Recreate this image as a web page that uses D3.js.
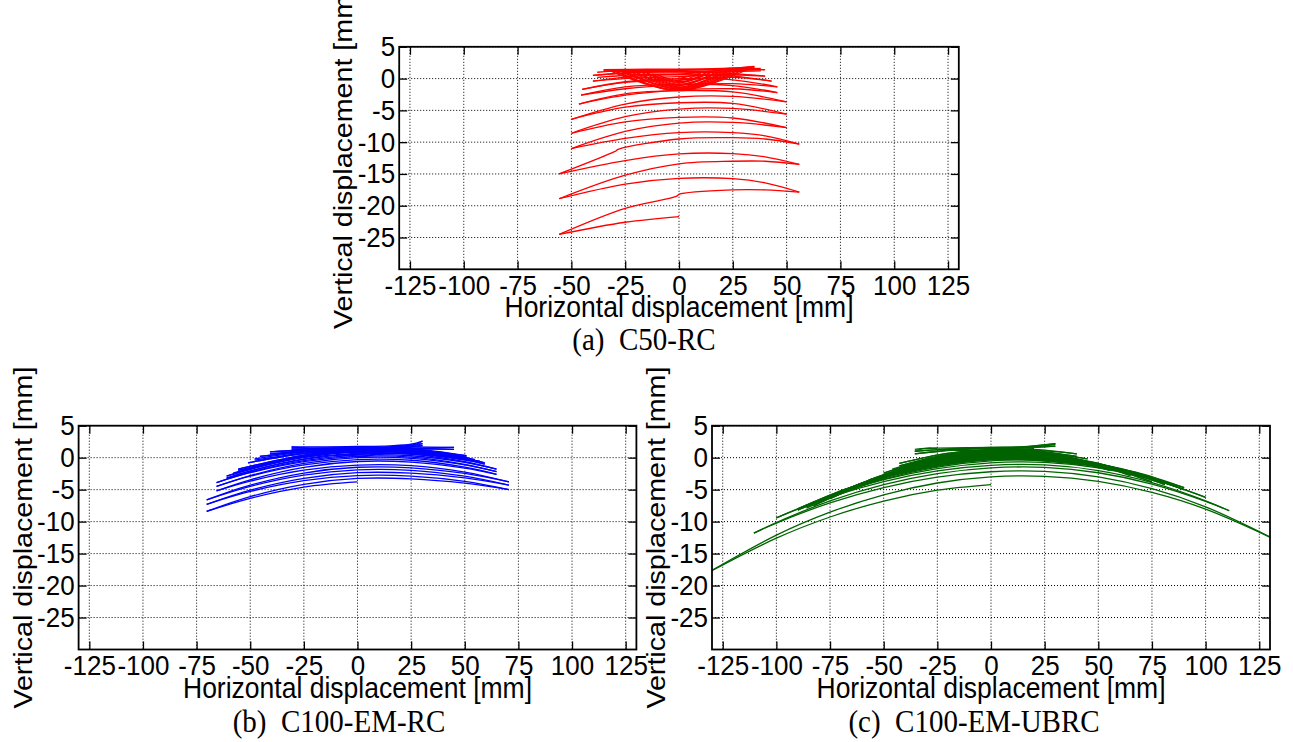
<!DOCTYPE html>
<html>
<head>
<meta charset="utf-8">
<script src="https://cdn.jsdelivr.net/npm/d3@7"></script>
<style>
  body { margin: 0; background: #fff; }
  text { font-family: "Liberation Sans", Arial, sans-serif; }
</style>
</head>
<body>
<div id="chart"></div>
<script>
// axis ticks shared by the three panels
const xTicks = [-125, -100, -75, -50, -25, 0, 25, 50, 75, 100, 125];
const yTicks = [5, 0, -5, -10, -15, -20, -25];
const xDomain = [-130, 130];
const yDomain = [-30, 5];
const xTitle = "Horizontal displacement [mm]";
const yTitle = "Vertical displacement [mm]";
const captions = ["(a)  C50-RC", "(b)  C100-EM-RC", "(c)  C100-EM-UBRC"];

// each sweep = one half cycle, [horizontal mm, vertical mm]
const c50rcLoops = [
  [[0,0],[10,0.8]],
  [[10,0.8],[0,-0.3],[-10,0.6]],
  [[-10,0.6],[0,-0.5],[15,1.0]],
  [[-12.5,0.7],[0,-0.6],[12.5,0.9]],
  [[15,1.0],[0,-0.7],[-15,0.9]],
  [[-15,0.9],[0,-0.9],[20,1.2]],
  [[17.5,1.1],[0,-1.0],[-17.5,1.0]],
  [[20,1.2],[0,-1.1],[-20,1.0]],
  [[-20,1.0],[0,-1.3],[25,1.5]],
  [[-22.5,1.1],[0,-1.4],[22.5,1.4]],
  [[25,1.5],[0,-1.5],[-25,1.1]],
  [[27.5,1.6],[0,-1.6],[-27.5,1.2]],
  [[-25,1.1],[0,-1.7],[30,1.7]],
  [[30,1.7],[0,-1.8],[-30,1.2]],
  [[-32.5,1.3],[0,-1.85],[32.5,1.8]],
  [[-30,1.2],[0,-1.9],[35,1.9]],
  [[35,1.9],[15,1.4],[0,1.3],[-20,1.3],[-35,1.4]],
  [[-35,1.4],[-15,1.5],[0,1.5],[20,1.6],[35,1.8]],
  [[35,1.8],[15,1.2],[0,1.1],[-20,1.1],[-35,1.2]],
  [[-38,1.0],[-15,1.4],[0,1.35],[20,1.5],[38,1.6]],
  [[-35,1.2],[-15,1.3],[0,1.4],[20,1.4],[40,1.4]],
  [[40,1.4],[20,1.2],[0,0.9],[-20,0.9],[-40,0.5]],
  [[38,1.2],[15,1.0],[0,0.7],[-20,0.6],[-38,0.2]],
  [[-40,0.5],[-20,1.0],[0,1.1],[20,0.9],[40,0.4]],
  [[40,0.4],[20,0.6],[0,0.3],[-20,0.1],[-40,-0.4]],
  [[-40,-0.4],[-20,0.4],[0,0.6],[25,0.4],[43,-0.4]],
  [[43,-0.4],[25,0.2],[0,-0.2],[-25,-0.6],[-45,-1.7]],
  [[-45,-1.7],[-25,-0.5],[0,0],[25,-0.2],[45.7,-1.3]],
  [[45.7,-1.3],[25,-0.8],[0,-1.0],[-25,-1.6],[-45.5,-2.6]],
  [[-45.5,-2.6],[-25,-1.3],[0,-0.9],[25,-1.1],[45.7,-2.2]],
  [[45.7,-2.2],[25,-1.6],[0,-1.8],[-25,-2.6],[-46.5,-4.0]],
  [[-46.5,-4.0],[-25,-2.4],[0,-1.9],[25,-2.1],[50,-3.65]],
  [[50,-3.65],[25,-2.8],[0,-2.9],[-25,-4.0],[-50,-6.4]],
  [[-50,-6.4],[-25,-4.5],[0,-3.8],[25,-3.9],[50,-5.6]],
  [[50,-5.6],[25,-4.7],[0,-4.8],[-25,-6.0],[-50,-8.6]],
  [[-50,-8.6],[-25,-6.8],[0,-6.1],[25,-6.2],[50,-7.7]],
  [[50,-7.7],[25,-6.9],[0,-7.0],[-25,-8.3],[-50,-11.0]],
  [[-50,-11.0],[-25,-9.4],[0,-8.5],[25,-8.5],[40,-9.0],[55.9,-10.3]],
  [[55.9,-10.3],[40,-9.5],[25,-9.3],[0,-9.5],[-28,-11.1],[-30,-11.5],[-55.7,-15.0]],
  [[-55.7,-15.0],[-25,-12.9],[0,-11.85],[25,-11.8],[40,-12.3],[55.9,-13.5]],
  [[55.9,-13.5],[40,-13.0],[25,-13.0],[0,-13.4],[-25,-15.2],[-55.7,-18.9]],
  [[-55.7,-18.9],[-25,-16.6],[0,-15.7],[25,-15.75],[40,-16.4],[55.9,-17.85]],
  [[55.9,-17.85],[40,-17.5],[25,-17.5],[0,-18.2],[-1,-18.5],[-25,-20.4],[-55.7,-24.5]],
  [[-55.7,-24.5],[-25,-22.6],[0,-21.7]]
];

const c100emrcLoops = [
  [[0,0],[10,0.6]],
  [[10,0.6],[0,0.2],[-10,0.5]],
  [[-10,0.5],[0,0.5],[20,1.2]],
  [[20,1.2],[0,0.8],[-20,1.1]],
  [[-20,1.1],[0,1.1],[30.3,1.9]],
  [[30.3,1.9],[15,1.4],[0,1.3],[-15,1.3],[-30.7,1.7]],
  [[-30.7,1.7],[-15,1.7],[0,1.75],[15,1.85],[25,2.1],[30.3,2.6]],
  [[30.3,2.6],[25,1.8],[0,1.5],[-15,1.5],[-30.7,1.5]],
  [[-30.7,1.5],[-15,1.5],[0,1.6],[15,1.7],[25,1.9],[30.3,2.2]],
  [[30.3,2.2],[15,1.6],[0,1.4],[-15,1.3],[-30.7,1.2]],
  [[-30.7,1.2],[-15,1.5],[0,1.6],[25,1.7],[45,1.6]],
  [[45,1.6],[25,1.5],[0,1.4],[-25,1.2],[-40.8,0.9]],
  [[-40.8,0.9],[-25,1.2],[0,1.4],[25,1.45],[45,1.3]],
  [[45,1.3],[25,1.35],[0,1.3],[-25,1.0],[-40.8,0.6]],
  [[-40.8,0.6],[-25,1.1],[0,1.5],[25,1.4],[50.8,0.3]],
  [[50.8,0.3],[25,1.3],[0,1.4],[-25,0.95],[-45.5,0.2]],
  [[-45.5,0.2],[-25,0.95],[0,1.4],[25,1.3],[50.8,0.1]],
  [[-48,-0.2],[-24,0.9],[0,1.35],[26,1.2],[52,-0.1]],
  [[52,-0.1],[26,1.0],[0,1.25],[-24,0.75],[-48,-0.4]],
  [[50.8,0.1],[25,1.2],[0,1.3],[-25,0.65],[-51,-0.8]],
  [[-51,-0.8],[-25,0.65],[0,1.3],[25,1.2],[54.7,-0.3]],
  [[54.7,-0.3],[25,1.1],[0,1.2],[-25,0.4],[-55.6,-1.8]],
  [[-55.6,-1.8],[-25,0.4],[0,1.2],[25,1.1],[54.7,-0.5]],
  [[54.7,-0.5],[25,1.0],[0,1.1],[-25,0.27],[-55.6,-2.0]],
  [[-58,-2.4],[-29,0.0],[0,1.0],[28.5,0.7],[57,-0.6]],
  [[57,-0.6],[28.5,0.6],[0,0.9],[-29,-0.15],[-58,-2.6]],
  [[-55.6,-2.0],[-25,0.27],[0,1.1],[25,1.0],[50,-0.12],[59.3,-0.8]],
  [[59.3,-0.8],[50,-0.16],[25,0.9],[0,1.0],[-25,0.11],[-50,-1.76],[-61,-2.9]],
  [[-61,-2.9],[-50,-1.79],[-25,0.03],[0,0.9],[25,0.8],[50,-0.32],[59.3,-1.0]],
  [[59.3,-1.0],[50,-0.39],[25,0.6],[0,0.7],[-25,-0.19],[-50,-2.06],[-61,-3.2]],
  [[-61,-3.2],[-50,-2.09],[-25,-0.27],[0,0.6],[25,0.5],[50,-0.64],[64.8,-1.8]],
  [[64.8,-1.8],[50,-0.74],[25,0.3],[0,0.4],[-25,-0.46],[-50,-2.27],[-65.7,-3.9]],
  [[-65.7,-3.9],[-50,-2.35],[-25,-0.62],[0,0.2],[25,0.1],[50,-1.04],[64.8,-2.2]],
  [[64.8,-2.2],[50,-1.14],[25,-0.1],[0,0.0],[-25,-0.9],[-50,-2.8],[-65.7,-4.5]],
  [[-65.7,-4.5],[-50,-2.9],[-25,-1.14],[0,-0.3],[25,-0.4],[50,-1.49],[64.8,-2.6]],
  [[64.8,-2.6],[50,-1.63],[25,-0.69],[0,-0.6],[-25,-1.52],[-50,-3.46],[-65.7,-5.2]],
  [[-65.7,-5.2],[-50,-3.67],[-25,-1.96],[0,-1.15],[25,-1.24],[50,-2.26],[70.6,-3.8]],
  [[70.6,-3.8],[50,-2.47],[25,-1.58],[0,-1.5],[-25,-2.4],[-50,-4.3],[-70.3,-6.6]],
  [[-70.3,-6.6],[-50,-4.49],[-25,-2.73],[0,-1.9],[25,-1.98],[50,-2.9],[70.6,-4.3]],
  [[70.6,-4.3],[50,-3.17],[25,-2.42],[0,-2.35],[-25,-3.23],[-50,-5.08],[-70.3,-7.3]],
  [[-70.3,-7.3],[-50,-5.28],[-25,-3.6],[0,-2.8],[25,-2.88],[50,-3.72],[70.6,-5.0]],
  [[70.6,-5.0],[50,-3.99],[25,-3.31],[0,-3.25],[-25,-4.16],[-50,-6.09],[-70.3,-8.4]],
  [[-70.3,-8.4],[-50,-6.35],[-25,-4.6],[0,-3.8]]
];

const c100emubrcLoops = [
  [[0,0],[10,0.7]],
  [[10,0.7],[0,0.3],[-10,0.6]],
  [[-10,0.6],[0,0.8],[20,1.4]],
  [[20,1.4],[0,1.1],[-20,1.2]],
  [[-20,1.2],[-10,1.4],[0,1.5],[15,1.7],[30,2.2]],
  [[-35.5,1.0],[-33,1.3],[-25,1.5]],
  [[-35.5,1.3],[-30,1.5],[-25,1.5],[0,1.6],[20,1.7],[30,2.1]],
  [[30,2.2],[15,1.71],[0,1.6],[-17.75,1.42],[-35.5,1.0]],
  [[-35.5,1.0],[-17.75,1.39],[0,1.55],[15,1.6],[30,1.8]],
  [[30,1.8],[15,1.51],[0,1.45],[-17.75,1.2],[-35.5,0.6]],
  [[-35.5,0.6],[-17.75,1.2],[0,1.45],[20,1.3],[40,0.6]],
  [[40,0.6],[20,1.17],[0,1.3],[-21.35,0.64],[-42.7,-0.9]],
  [[-42.7,-0.9],[-21.35,0.64],[0,1.3],[20,1.1],[40,0.2]],
  [[40,0.2],[20,0.98],[0,1.15],[-21.35,0.42],[-42.7,-1.3]],
  [[-46,-1.8],[-23,0.23],[0,1.1],[22.5,0.87],[45,-0.2]],
  [[45,-0.2],[22.5,0.78],[0,1.0],[-23,0.1],[-46,-2.0]],
  [[-42.7,-1.3],[-21.35,0.45],[0,1.2],[25,0.8],[50,-1.0]],
  [[50,-1.0],[25,0.68],[0,1.05],[-25,0.02],[-50,-2.4]],
  [[-50,-2.4],[-25,0.02],[0,1.05],[25,0.61],[50,-1.4]],
  [[50,-1.4],[25,0.49],[0,0.9],[-25,-0.21],[-50,-2.8]],
  [[-50,-2.8],[-25,-0.18],[0,0.95],[27.75,0.49],[55.5,-1.6]],
  [[55.5,-1.6],[27.75,0.37],[0,0.8],[-28.5,-0.49],[-57,-3.5]],
  [[-57,-3.5],[-28.5,-0.49],[0,0.8],[27.75,0.3],[55.5,-2.0]],
  [[55.5,-2.0],[27.75,0.17],[0,0.65],[-28.5,-0.72],[-57,-3.9]],
  [[-60,-4.2],[-30,-0.84],[0,0.6],[30,0.11],[60,-2.1]],
  [[60,-2.1],[30,0.03],[0,0.5],[-30,-0.97],[-60,-4.4]],
  [[-57,-3.9],[-28.5,-0.68],[0,0.7],[32.5,0.14],[48.75,-0.79],[65,-2.4]],
  [[65,-2.4],[48.75,-0.87],[32.5,0.02],[0,0.55],[-32.25,-1.0],[-48.4,-2.54],[-64.5,-4.6]],
  [[-64.5,-4.6],[-48.4,-2.54],[-32.25,-1.0],[0,0.55],[32.5,-0.05],[48.75,-1.06],[65,-2.8]],
  [[65,-2.8],[48.75,-1.14],[32.5,-0.18],[0,0.4],[-32.25,-1.22],[-48.4,-2.84],[-64.5,-5.0]],
  [[-70,-5.4],[-52.5,-3.1],[-35,-1.38],[0,0.35],[35,-0.22],[52.5,-1.16],[70,-2.8]],
  [[70,-2.8],[52.5,-1.21],[35,-0.3],[0,0.25],[-35,-1.5],[-52.5,-3.26],[-70,-5.6]],
  [[-64.5,-5.0],[-48.4,-2.82],[-32.25,-1.19],[0,0.45],[37.5,-0.24],[56.25,-1.4],[75,-3.4]],
  [[75,-3.4],[56.25,-1.48],[37.5,-0.37],[0,0.3],[-37.5,-1.59],[-56.25,-3.48],[-75,-6.0]],
  [[-75,-6.0],[-56.25,-3.48],[-37.5,-1.59],[0,0.3],[37.5,-0.44],[56.25,-1.67],[75,-3.8]],
  [[75,-3.8],[56.25,-1.75],[37.5,-0.56],[0,0.15],[-37.5,-1.82],[-56.25,-3.78],[-75,-6.4]],
  [[-75,-6.4],[-56.25,-3.76],[-37.5,-1.78],[0,0.2],[40.5,-0.52],[60.75,-1.72],[81,-3.8]],
  [[81,-3.8],[60.75,-1.8],[40.5,-0.64],[0,0.05],[-41.35,-2.1],[-62,-4.24],[-82.7,-7.1]],
  [[-82.7,-7.1],[-62,-4.24],[-41.35,-2.1],[0,0.05],[40.5,-0.72],[60.75,-1.99],[81,-4.2]],
  [[81,-4.2],[60.75,-2.07],[40.5,-0.84],[0,-0.1],[-41.35,-2.32],[-62,-4.54],[-82.7,-7.5]],
  [[-86,-7.7],[-64.5,-4.66],[-43,-2.38],[0,-0.1],[43,-0.89],[64.5,-2.21],[86,-4.5]],
  [[86,-4.5],[64.5,-2.29],[43,-1.02],[0,-0.25],[-43,-2.55],[-64.5,-4.84],[-86,-7.9]],
  [[-82.7,-7.5],[-62,-4.52],[-41.35,-2.29],[0,-0.05],[45,-0.89],[67.5,-2.28],[90,-4.7]],
  [[90,-4.7],[67.5,-2.36],[45,-1.01],[0,-0.2],[-45,-2.54],[-67.5,-4.88],[-90,-8.0]],
  [[-90,-8.0],[-67.5,-4.88],[-45,-2.54],[0,-0.2],[45,-1.06],[67.5,-2.5],[90,-5.0]],
  [[90,-5.0],[67.5,-2.58],[45,-1.19],[0,-0.35],[-45,-2.71],[-67.5,-5.06],[-90,-8.2]],
  [[-90,-8.2],[-75,-6.12],[-50,-3.35],[-25,-1.48],[0,-0.5],[25,-0.42],[50,-1.33],[75,-3.26],[100,-6.2]],
  [[100,-6.2],[75,-3.41],[50,-1.59],[25,-0.73],[0,-0.8],[-25,-1.71],[-50,-3.45],[-75,-6.01],[-100,-9.4]],
  [[-100,-9.4],[-75,-6.17],[-50,-3.73],[-25,-2.07],[0,-1.2],[25,-1.14],[50,-2.02],[75,-3.89],[100,-6.74],[111,-8.3]],
  [[111,-8.3],[100,-6.82],[75,-4.12],[50,-2.36],[25,-1.52],[0,-1.6],[-25,-2.5],[-50,-4.23],[-75,-6.77],[-100,-10.14],[-110.5,-11.8]],
  [[-110.5,-11.8],[-100,-10.23],[-75,-7.07],[-50,-4.67],[-25,-3.05],[0,-2.2],[25,-2.14],[50,-3.01],[75,-4.86],[100,-7.69],[133,-12.9]],
  [[133,-12.9],[100,-8.06],[75,-5.44],[50,-3.72],[25,-2.91],[0,-3.0],[-25,-3.96],[-50,-5.8],[-75,-8.52],[-100,-12.11],[-133,-18.2]],
  [[-133,-18.2],[-100,-12.59],[-75,-9.28],[-50,-6.78],[-25,-5.08],[0,-4.2]]
];

// layout of the three panels (pixels)
const panels = [
  { loops: c50rcLoops, color: "#ff0000", left: 399.2, top: 46.8, width: 559.6, height: 222.5, capX: 644, capY: 350 },
  { loops: c100emrcLoops, color: "#0000ff", left: 78.6, top: 425.7, width: 557.8, height: 223.8, capX: 339, capY: 732 },
  { loops: c100emubrcLoops, color: "#006400", left: 712, top: 425.7, width: 558, height: 223.8, capX: 974, capY: 732 }
];

const svg = d3.select("#chart").append("svg")
  .attr("width", 1293)
  .attr("height", 742);

svg.append("rect")
  .attr("width", 1293)
  .attr("height", 742)
  .attr("fill", "#fff");

function drawPanel(p, i) {
  const x = d3.scaleLinear().domain(xDomain).range([p.left, p.left + p.width]);
  const y = d3.scaleLinear().domain(yDomain).range([p.top + p.height, p.top]);
  const g = svg.append("g");

  // dotted grid
  g.append("g").selectAll("line").data(xTicks).join("line")
    .attr("x1", d => x(d)).attr("x2", d => x(d))
    .attr("y1", p.top).attr("y2", p.top + p.height)
    .attr("stroke", "#000").attr("stroke-width", 1)
    .attr("stroke-dasharray", "1,2");
  g.append("g").selectAll("line").data(yTicks).join("line")
    .attr("y1", d => y(d)).attr("y2", d => y(d))
    .attr("x1", p.left).attr("x2", p.left + p.width)
    .attr("stroke", "#000").attr("stroke-width", 1)
    .attr("stroke-dasharray", "1,2");

  g.append("clipPath").attr("id", "clip" + i)
    .append("rect")
    .attr("x", p.left).attr("y", p.top)
    .attr("width", p.width).attr("height", p.height);

  const line = d3.line()
    .x(d => x(d[0]))
    .y(d => y(d[1]))
    .curve(d3.curveCatmullRom.alpha(0.5));

  g.append("g")
    .attr("clip-path", `url(#clip${i})`)
    .selectAll("path")
    .data(p.loops)
    .join("path")
    .attr("d", line)
    .attr("fill", "none")
    .attr("stroke", p.color)
    .attr("stroke-width", 1.3)
    .attr("stroke-linejoin", "round");

  // axes, ticks pointing inward on all four sides
  const label = d => String(d);   // plain hyphen, as in the figure
  const bottom = g.append("g")
    .attr("transform", `translate(0,${p.top + p.height})`)
    .call(d3.axisBottom(x).tickValues(xTicks).tickFormat(label).tickSize(-8).tickPadding(0));
  const left = g.append("g")
    .attr("transform", `translate(${p.left},0)`)
    .call(d3.axisLeft(y).tickValues(yTicks).tickFormat(label).tickSize(-8).tickPadding(4));
  const top = g.append("g")
    .attr("transform", `translate(0,${p.top})`)
    .call(d3.axisTop(x).tickValues(xTicks).tickSize(-8).tickFormat(""));
  const right = g.append("g")
    .attr("transform", `translate(${p.left + p.width},0)`)
    .call(d3.axisRight(y).tickValues(yTicks).tickSize(-8).tickFormat(""));

  [bottom, left, top, right].forEach(a => {
    a.select(".domain").remove();
    a.selectAll(".tick line").attr("stroke", "#000").attr("stroke-width", 1.3);
    a.attr("font-size", 26).attr("font-family", "Liberation Sans, Arial, sans-serif");
    a.selectAll("text").attr("fill", "#000");
  });
  bottom.selectAll("text").attr("y", 24).attr("dy", null).attr("transform", "scale(1,1.08)");
  left.selectAll("text").attr("transform", "scale(1,1.08)");

  g.append("rect")
    .attr("x", p.left).attr("y", p.top)
    .attr("width", p.width).attr("height", p.height)
    .attr("fill", "none").attr("stroke", "#000").attr("stroke-width", 1.8);

  g.append("text")
    .attr("transform", `translate(${x(0)},${p.top + p.height + 48}) scale(1,1.08)`)
    .attr("text-anchor", "middle")
    .attr("font-size", 26.5)
    .text(xTitle);

  g.append("text")
    .attr("transform", `translate(${p.left - 47},${p.top + p.height / 2}) rotate(-90) scale(1.08,1)`)
    .attr("text-anchor", "middle")
    .attr("font-size", 26.5)
    .text(yTitle);

  g.append("text")
    .attr("transform", `translate(${p.capX},${p.capY}) scale(1,1.08)`)
    .attr("text-anchor", "middle")
    .style("font-family", "'Liberation Serif', 'Times New Roman', serif")
    .style("white-space", "pre")
    .attr("font-size", 29)
    .text(captions[i]);
}

panels.forEach(drawPanel);
</script>
</body>
</html>
